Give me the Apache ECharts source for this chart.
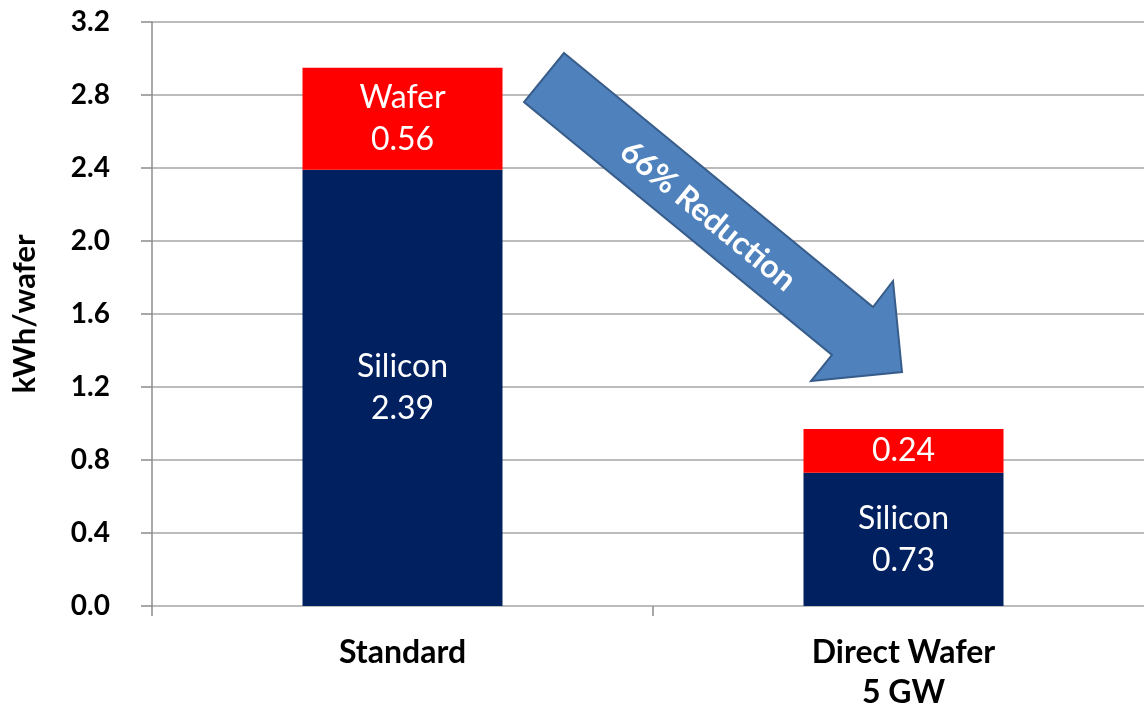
<!DOCTYPE html>
<html>
<head>
<meta charset="utf-8">
<script src="https://cdn.jsdelivr.net/npm/echarts@6/dist/echarts.min.js"></script>
<style>
html,body{margin:0;padding:0;background:#fff;}
#main{width:1144px;height:708px;}
</style>
</head>
<body>
<div id="main"></div>
<script>
const categories = ['Standard', 'Direct Wafer\n5 GW'];
const siliconValues = [2.39, 0.73];
const waferValues = [0.56, 0.24];
const siliconLabels = ['Silicon\n2.39', 'Silicon\n0.73'];
const waferLabels = ['Wafer\n0.56', '0.24'];
const yTicks = [0, 0.4, 0.8, 1.2, 1.6, 2.0, 2.4, 2.8, 3.2];

const FONT = 'Lato';
const chart = echarts.init(document.getElementById('main'));

const option = {
  backgroundColor: '#ffffff',
  animation: false,
  grid: { left: 152, right: -10, top: 22, bottom: 102, containLabel: false, outerBoundsMode: 'none' },
  xAxis: {
    type: 'category',
    data: categories,
    axisLine: { show: false },
    axisTick: { show: true, length: 10, lineStyle: { color: '#8c8c8c', width: 1.5 } },
    axisLabel: {
      color: '#000', fontFamily: FONT, fontWeight: 'bold', fontSize: 32,
      lineHeight: 40, margin: 27
    },
    splitLine: { show: false }
  },
  yAxis: {
    type: 'value',
    min: yTicks[0],
    max: yTicks[yTicks.length - 1],
    interval: 0.4,
    name: 'kWh/wafer',
    nameLocation: 'middle',
    nameGap: 112,
    nameRotate: 90,
    nameTextStyle: { color: '#000', fontFamily: FONT, fontWeight: 'bold', fontSize: 31 },
    axisLine: { show: true, lineStyle: { color: '#8c8c8c', width: 1.5 } },
    axisTick: { show: true, length: 11, lineStyle: { color: '#8c8c8c', width: 1.5 } },
    axisLabel: {
      color: '#000', fontFamily: FONT, fontWeight: 'bold', fontSize: 28, margin: 42,
      formatter: v => v.toFixed(1)
    },
    splitLine: { show: true, lineStyle: { color: '#a6a6a6', width: 1.5 } }
  },
  series: [
    {
      name: 'Silicon', type: 'bar', stack: 'total', barWidth: 200,
      data: siliconValues,
      itemStyle: { color: '#002060' },
      label: {
        show: true, position: 'inside', color: '#fff', fontFamily: FONT, fontSize: 32, lineHeight: 42,
        formatter: p => siliconLabels[p.dataIndex]
      }
    },
    {
      name: 'Wafer', type: 'bar', stack: 'total', barWidth: 200,
      data: waferValues,
      itemStyle: { color: '#ff0000' },
      label: {
        show: true, position: 'inside', color: '#fff', fontFamily: FONT, fontSize: 32, lineHeight: 42,
        formatter: p => waferLabels[p.dataIndex]
      }
    }
  ],
  graphic: [
    {
      type: 'polygon',
      z: 100,
      shape: {
        points: [[564, 53], [873, 307], [893, 281], [902, 372], [811, 381], [832, 355], [524, 102]]
      },
      style: { fill: '#4f81bd', stroke: '#385d8a', lineWidth: 2 }
    },
    {
      type: 'text',
      z: 101,
      x: 708, y: 216,
      rotation: -0.688,
      style: {
        text: '66% Reduction', fill: '#fff', font: 'bold 32px Lato',
        textAlign: 'center', textVerticalAlign: 'middle'
      }
    }
  ]
};
chart.setOption(option);
</script>
</body>
</html>
